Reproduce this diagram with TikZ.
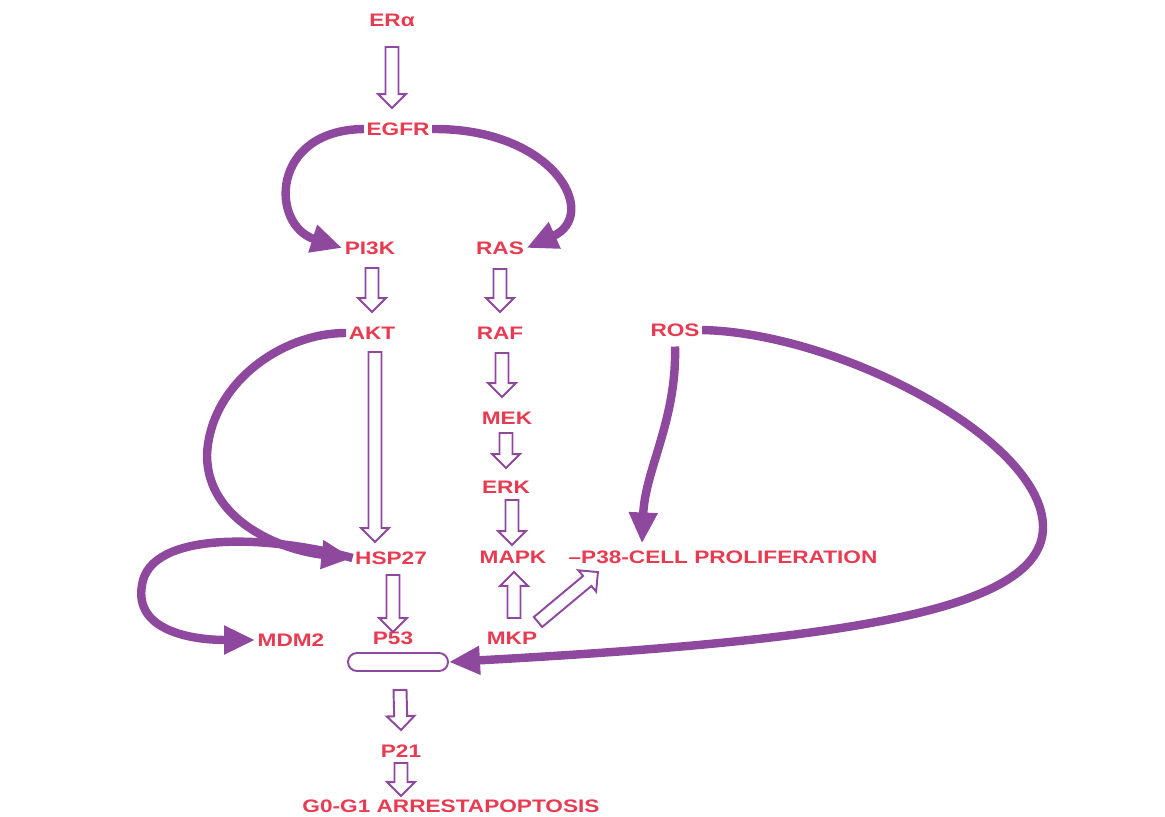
\documentclass[tikz,border=0pt]{standalone}
\usepackage{fontspec}
\newfontfamily\labelfont{Liberation Sans}
\usetikzlibrary{arrows.meta,calc}
\definecolor{labelred}{RGB}{232,58,80}
\definecolor{pathpurple}{RGB}{142,72,158}
\tikzset{
  lbl/.style={text=labelred, font=\labelfont\bfseries\fontsize{10.3}{12}\selectfont,
    xscale=1.25, transform shape, inner sep=1pt},
  fatarrow/.style={draw=pathpurple, line width=4.8pt, -{Triangle[length=0.62cm,width=0.54cm]}},
  hollow/.style={draw=pathpurple, fill=white, line width=1.1pt, line join=miter},
  pillbox/.style={draw=pathpurple, line width=1.1pt, minimum width=2cm, minimum height=0.36cm,
    rounded corners=0.18cm, inner sep=0pt}
}
% open block arrow from #1 to #2
\newcommand\blockarrow[2]{%
  \path[hollow] let \p1=(#1), \p2=(#2),
    \n1={veclen(\x2-\x1,\y2-\y1)}, \n2={atan2(\y2-\y1,\x2-\x1)} in
    [shift={(\p1)}, rotate=\n2]
    (0pt,-3.7pt) -- (\n1-7.9pt,-3.7pt) -- (\n1-7.9pt,-7.9pt) -- (\n1,0pt)
    -- (\n1-7.9pt,7.9pt) -- (\n1-7.9pt,3.7pt) -- (0pt,3.7pt) -- cycle;}
\begin{document}
\begin{tikzpicture}[x=0.02cm, y=-0.02cm]
				\useasboundingbox (0,0) rectangle (1165,817);

				% Receptors
				\node[lbl] (era) at (392,20) {ERα};
				\node[lbl] (egfr) at (398,129) {EGFR};
				\node[lbl] (pik) at (370,248) {PI3K};
				\node[lbl] (ras) at (500,248) {RAS};

				% Akt branch
				\node[lbl] (akt) at (372,333) {AKT};
				\node[lbl] (hsp) at (391,558) {HSP27};
				\node[lbl] (mdm) at (291,640) {MDM2};
				\node[lbl] (p53) at (393,638) {P53};
				\node[pillbox] (pbox) at (398,662) {};
				\node[lbl] (p21) at (401,751) {P21};
				\node[lbl] (g0) at (451,806) {G0-G1 ARRESTAPOPTOSIS};

				% Ras branch
				\node[lbl] (raf) at (500,333) {RAF};
				\node[lbl] (mek) at (507,418) {MEK};
				\node[lbl] (erk) at (506,487) {ERK};
				\node[lbl] (mapk) at (513,557) {MAPK};
				\node[lbl] (mkp) at (512,638) {MKP};
				\node[lbl] (p38) at (723,557) {–P38-CELL PROLIFERATION};
				\node[lbl] (ros) at (675,330) {ROS};

				% Open arrows
				\blockarrow{$(era)+(0,27)$}{$(era |- egfr)+(0,-21)$}
				\blockarrow{$(pik)+(2,20)$}{$(pik |- akt)+(2,-21)$}
				\blockarrow{$(ras)+(0,21)$}{$(ras |- raf)+(0,-21)$}
				\blockarrow{$(raf)+(2,20)$}{$(raf |- mek)+(2,-21)$}
				\blockarrow{$(mek)+(-1,15)$}{$(mek |- erk)+(-1,-19)$}
				\blockarrow{$(erk)+(6,13)$}{$(erk |- mapk)+(6,-12)$}
				\blockarrow{$(akt)+(3,19)$}{$(akt |- hsp)+(3,-16)$}
				\blockarrow{$(hsp)+(2,17)$}{$(hsp |- p53)+(2,-6)$}
				\blockarrow{$(mkp)+(2,-20)$}{$(mkp |- mapk)+(2,15)$}
				\blockarrow{$(mkp)+(26,-16)$}{$(p38.west)+(32,15)$}
				\blockarrow{$(pbox.south)+(2,18)$}{$(p21)+(0,-21)$}
				\blockarrow{$(p21)+(0,12)$}{$(p21 |- g0)+(0,-10)$}

				% Thick arrows
				\draw[fatarrow] (egfr.west) .. controls (270,130) and (270,225) .. (pik.west);
				\draw[fatarrow] (egfr.east) .. controls (555,128) and (600,215) .. (ras.east);
				\draw[fatarrow] (akt.west) .. controls (280,333) and (210,385) .. (207,455)
					.. controls (207,520) and (280,550) .. (hsp.west);
				\draw[fatarrow] (hsp.west) .. controls (270,535) and (150,530) .. (142,585)
					.. controls (134,630) and (190,640) .. (mdm.west);
				\draw[fatarrow] ($(ros.south)+(0,8)$) .. controls (677,420) and (645,470)
					.. ($(p38.north west)+(76,-5)$);
				\draw[fatarrow] (ros.east) .. controls (840,333) and (1043,440) .. (1043,527)
					.. controls (1043,610) and (850,640) .. (pbox.east);
			\end{tikzpicture}
\end{document}
